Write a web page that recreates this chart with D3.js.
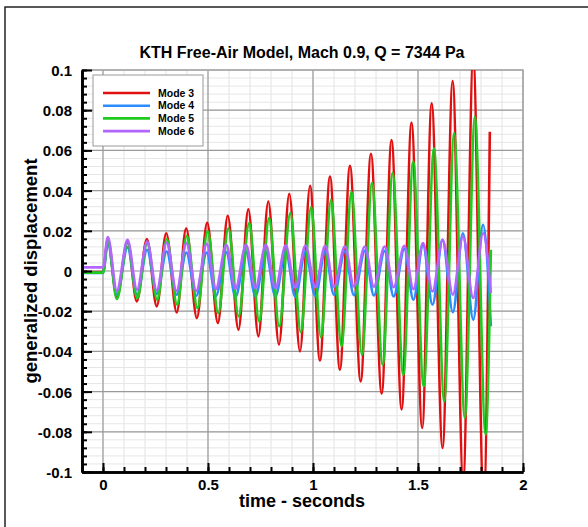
<!DOCTYPE html>
<html>
<head>
<meta charset="utf-8">
<script src="https://cdn.jsdelivr.net/npm/d3@7"></script>
<style>
  html, body { margin: 0; padding: 0; background: #fff; }
  svg { display: block; font-family: "Liberation Sans", Arial, sans-serif; }
</style>
</head>
<body>
<div id="chart"></div>
<script>
// ----- Data (extrema of each mode history) -----
const seriesNames = ["Mode 3", "Mode 4", "Mode 5", "Mode 6"];
const seriesColors = ["#e01010", "#2a8cff", "#1ecb1e", "#b266ff"];

// [time (s), generalized displacement]
const mode3 = [
  [-0.1, -0.0005], [0, -0.0005],
  [0.023, 0.0155], [0.066, -0.0130], [0.117, 0.0147], [0.161, -0.0151],
  [0.209, 0.0159], [0.256, -0.0176], [0.301, 0.0188], [0.351, -0.0206],
  [0.396, 0.0213], [0.447, -0.0234], [0.496, 0.0240], [0.547, -0.0259],
  [0.594, 0.0275], [0.645, -0.0292], [0.692, 0.0307], [0.740, -0.0325],
  [0.787, 0.0346], [0.838, -0.0366], [0.887, 0.0384], [0.938, -0.0400],
  [0.986, 0.0424], [1.033, -0.0445], [1.081, 0.0470], [1.128, -0.0491],
  [1.176, 0.0523], [1.227, -0.0549], [1.276, 0.0583], [1.327, -0.0610],
  [1.374, 0.0652], [1.422, -0.0689], [1.469, 0.0738], [1.520, -0.0781],
  [1.565, 0.0834], [1.617, -0.0880], [1.665, 0.0945], [1.715, -0.1040],
  [1.763, 0.1060], [1.813, -0.1150], [1.842, 0.0693]
];

const mode4 = [
  [-0.1, -0.0010], [0, -0.0010],
  [0.023, 0.0139], [0.066, -0.0118], [0.117, 0.0119], [0.162, -0.0118],
  [0.210, 0.0106], [0.256, -0.0113], [0.303, 0.0097], [0.350, -0.0118],
  [0.397, 0.0092], [0.444, -0.0123], [0.494, 0.0092], [0.537, -0.0125],
  [0.587, 0.0094], [0.631, -0.0128], [0.681, 0.0095], [0.726, -0.0125],
  [0.775, 0.0096], [0.821, -0.0126], [0.870, 0.0097], [0.916, -0.0128],
  [0.964, 0.0098], [1.011, -0.0125], [1.058, 0.0098], [1.100, -0.0118],
  [1.152, 0.0098], [1.195, -0.0120], [1.247, 0.0100], [1.290, -0.0122],
  [1.341, 0.0100], [1.384, -0.0126], [1.435, 0.0110], [1.478, -0.0143],
  [1.524, 0.0130], [1.569, -0.0168], [1.617, 0.0155], [1.666, -0.0205],
  [1.714, 0.0188], [1.763, -0.0242], [1.810, 0.0230], [1.847, -0.0275]
];

const mode5 = [
  [-0.1, -0.0008], [0, -0.0008],
  [0.023, 0.0155], [0.066, -0.0139], [0.117, 0.0139], [0.163, -0.0135],
  [0.211, 0.0142], [0.258, -0.0143], [0.304, 0.0159], [0.353, -0.0168],
  [0.399, 0.0175], [0.450, -0.0184], [0.498, 0.0197], [0.549, -0.0209],
  [0.597, 0.0213], [0.646, -0.0226], [0.696, 0.0238], [0.744, -0.0251],
  [0.791, 0.0263], [0.839, -0.0275], [0.892, 0.0288], [0.942, -0.0305],
  [0.991, 0.0318], [1.038, -0.0330], [1.086, 0.0354], [1.136, -0.0375],
  [1.183, 0.0395], [1.233, -0.0416], [1.281, 0.0437], [1.332, -0.0466],
  [1.379, 0.0487], [1.430, -0.0516], [1.477, 0.0544], [1.527, -0.0574],
  [1.576, 0.0611], [1.625, -0.0648], [1.672, 0.0685], [1.723, -0.0731],
  [1.771, 0.0768], [1.822, -0.0814], [1.847, 0.0106]
];

const mode6 = [
  [-0.1, 0.0018], [0, 0.0018],
  [0.023, 0.0169], [0.066, -0.0098], [0.117, 0.0155], [0.162, -0.0093],
  [0.210, 0.0147], [0.256, -0.0096], [0.303, 0.0142], [0.350, -0.0100],
  [0.397, 0.0139], [0.444, -0.0100], [0.494, 0.0135], [0.537, -0.0090],
  [0.587, 0.0130], [0.631, -0.0088], [0.681, 0.0130], [0.726, -0.0086],
  [0.775, 0.0130], [0.821, -0.0085], [0.870, 0.0128], [0.916, -0.0083],
  [0.964, 0.0127], [1.011, -0.0080], [1.058, 0.0125], [1.100, -0.0078],
  [1.152, 0.0123], [1.195, -0.0077], [1.247, 0.0122], [1.290, -0.0078],
  [1.341, 0.0122], [1.384, -0.0080], [1.435, 0.0125], [1.478, -0.0090],
  [1.524, 0.0139], [1.569, -0.0102], [1.617, 0.0155], [1.666, -0.0118],
  [1.714, 0.0172], [1.763, -0.0134], [1.810, 0.0188], [1.847, -0.0110]
];

// tick positions
const xMajorTicks = [0, 0.5, 1, 1.5, 2];
const xMinorTicks = d3.range(-1, 21).map(i => i / 10);
const yMajorTicks = [-0.1, -0.08, -0.06, -0.04, -0.02, 0, 0.02, 0.04, 0.06, 0.08, 0.1];
const yMinorTicks = d3.range(-25, 26).map(i => i * 0.004);

// ----- Layout -----
const W = 588, H = 527;
const PLOT = { left: 82, right: 523, top: 70, bottom: 472 };

const svg = d3.select("#chart").append("svg")
  .attr("width", W)
  .attr("height", H);

// outer frame
svg.append("rect")
  .attr("x", 5).attr("y", 7)
  .attr("width", W + 20).attr("height", H + 20)
  .attr("fill", "#fff")
  .attr("stroke", "#222")
  .attr("stroke-width", 1.5);

const x = d3.scaleLinear().domain([-0.1, 2]).range([PLOT.left, PLOT.right]);
const y = d3.scaleLinear().domain([-0.1, 0.1]).range([PLOT.bottom, PLOT.top]);

// ----- Grid -----
const grid = svg.append("g");
grid.selectAll(".vminor").data(xMinorTicks).enter().append("line")
  .attr("x1", d => x(d)).attr("x2", d => x(d))
  .attr("y1", PLOT.top).attr("y2", PLOT.bottom)
  .attr("stroke", "#e2e2e2").attr("stroke-width", 1);
grid.selectAll(".hminor").data(yMinorTicks).enter().append("line")
  .attr("x1", PLOT.left).attr("x2", PLOT.right)
  .attr("y1", d => y(d)).attr("y2", d => y(d))
  .attr("stroke", "#e6e6e6").attr("stroke-width", 1);
grid.selectAll(".vmajor").data(xMajorTicks).enter().append("line")
  .attr("x1", d => x(d)).attr("x2", d => x(d))
  .attr("y1", PLOT.top).attr("y2", PLOT.bottom)
  .attr("stroke", "#9a9a9a").attr("stroke-width", 1.2);
grid.selectAll(".hmajor").data(yMajorTicks).enter().append("line")
  .attr("x1", PLOT.left).attr("x2", PLOT.right)
  .attr("y1", d => y(d)).attr("y2", d => y(d))
  .attr("stroke", "#9a9a9a").attr("stroke-width", 1.2);

// plot border (top / right in light gray)
svg.append("rect")
  .attr("x", PLOT.left).attr("y", PLOT.top)
  .attr("width", PLOT.right - PLOT.left).attr("height", PLOT.bottom - PLOT.top)
  .attr("fill", "none").attr("stroke", "#aaa").attr("stroke-width", 1.5);

// ----- Curves -----
svg.append("clipPath").attr("id", "clip")
  .append("rect")
  .attr("x", PLOT.left).attr("y", PLOT.top)
  .attr("width", PLOT.right - PLOT.left).attr("height", PLOT.bottom - PLOT.top);

const line = d3.line()
  .x(d => x(d[0]))
  .y(d => y(d[1]))
  .curve(d3.curveMonotoneX);

const drawOrder = [
  { data: mode3, color: seriesColors[0] },
  { data: mode4, color: seriesColors[1] },
  { data: mode5, color: seriesColors[2] },
  { data: mode6, color: seriesColors[3] }
];
svg.append("g").attr("clip-path", "url(#clip)")
  .selectAll("path").data(drawOrder).enter().append("path")
  .attr("d", d => line(d.data))
  .attr("fill", "none")
  .attr("stroke", d => d.color)
  .attr("stroke-width", 2.6)
  .attr("stroke-linejoin", "round");

// ----- Axes -----
const fmt = d => String(+d.toFixed(3));

const yAxisG = svg.append("g").attr("transform", `translate(${PLOT.left},0)`);
yAxisG.append("g")
  .call(d3.axisLeft(y).tickValues(yMinorTicks).tickFormat("").tickSizeInner(-5).tickSizeOuter(0));
yAxisG.append("g")
  .call(d3.axisLeft(y).tickValues(yMajorTicks).tickFormat(fmt).tickSizeInner(-10).tickSizeOuter(0).tickPadding(10));

const xAxisG = svg.append("g").attr("transform", `translate(0,${PLOT.bottom})`);
xAxisG.append("g")
  .call(d3.axisBottom(x).tickValues(xMinorTicks).tickFormat("").tickSizeInner(-5).tickSizeOuter(0));
xAxisG.append("g")
  .call(d3.axisBottom(x).tickValues(xMajorTicks).tickFormat(fmt).tickSizeInner(-9).tickSizeOuter(0).tickPadding(7));

svg.selectAll(".domain").attr("stroke", "#000").attr("stroke-width", 2.6);
svg.selectAll(".tick line").attr("stroke", "#000").attr("stroke-width", 2);
svg.selectAll(".tick text")
  .attr("fill", "#000")
  .attr("font-size", 15)
  .attr("font-weight", "bold")
  .attr("font-family", "Liberation Sans, Arial, sans-serif");
yAxisG.selectAll(".tick text").attr("dy", "0.36em");

// ----- Titles -----
svg.append("text")
  .attr("x", 302).attr("y", 58)
  .attr("text-anchor", "middle")
  .attr("font-size", 16)
  .attr("font-weight", "bold")
  .text("KTH Free-Air Model, Mach 0.9, Q = 7344 Pa");

svg.append("text")
  .attr("x", 302).attr("y", 507)
  .attr("text-anchor", "middle")
  .attr("font-size", 18)
  .attr("font-weight", "bold")
  .text("time - seconds");

svg.append("text")
  .attr("transform", `translate(37, ${y(0)}) rotate(-90)`)
  .attr("text-anchor", "middle")
  .attr("font-size", 18.5)
  .attr("font-weight", "bold")
  .text("generalized displacement");

// ----- Legend -----
const legend = svg.append("g").attr("transform", "translate(93,75)");
legend.append("rect")
  .attr("width", 110).attr("height", 71)
  .attr("fill", "#fff").attr("stroke", "#999").attr("stroke-width", 1);
const items = legend.selectAll(".item").data(seriesNames).enter().append("g")
  .attr("transform", (d, i) => `translate(0, ${18 + i * 12.7})`);
items.append("line")
  .attr("x1", 10).attr("x2", 57)
  .attr("stroke", (d, i) => seriesColors[i])
  .attr("stroke-width", 2.6);
items.append("text")
  .attr("x", 65).attr("dy", "0.35em")
  .attr("font-size", 10.5)
  .attr("font-weight", "bold")
  .text(d => d);
</script>
</body>
</html>
